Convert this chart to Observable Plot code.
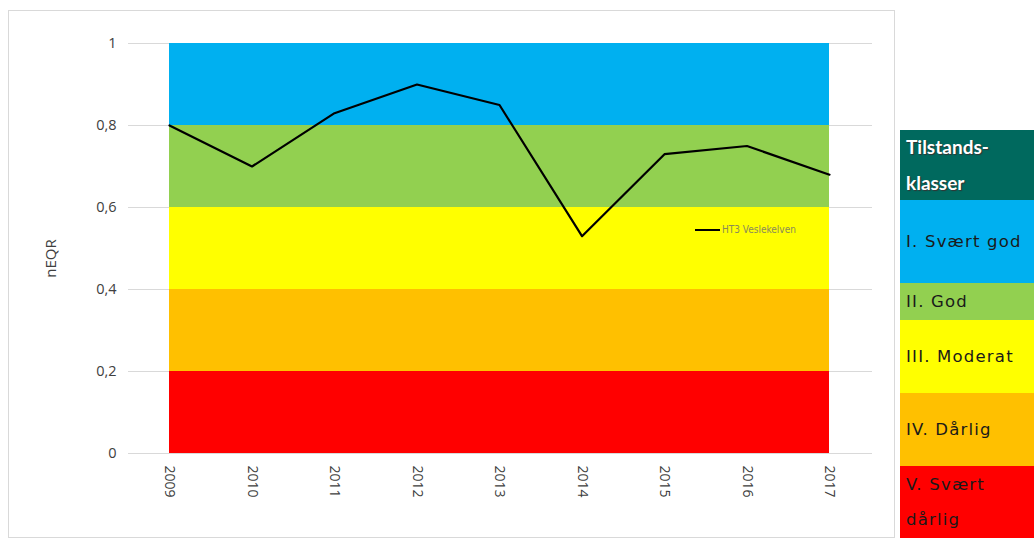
<!DOCTYPE html>
<html>
<head>
<meta charset="utf-8">
<script src="https://cdn.jsdelivr.net/npm/d3@7"></script>
<script src="https://cdn.jsdelivr.net/npm/@observablehq/plot@0.6"></script>
<style>
  body { margin: 0; background: #fff; font-family: "Open Sans", sans-serif; }
  #wrap { position: relative; width: 1034px; height: 541px; overflow: hidden; }
  #chart { position: absolute; left: 8px; top: 10px; width: 887px; height: 528px;
           border: 1px solid #d9d9d9; box-sizing: border-box; }
  #serie { position: absolute; left: 695px; top: 224px; font-size: 10px; color: #8a8a5a;
           font-family: "DejaVu Sans Condensed", "DejaVu Sans", sans-serif; white-space: nowrap; }
  #serie span.line { display: inline-block; width: 25px; border-top: 2px solid #000;
                     vertical-align: middle; margin-right: 2px; }
  #klasser { position: absolute; left: 900px; top: 130px; width: 134px; }
  #klasser div { box-sizing: border-box; padding-left: 6px; display: flex; align-items: center;
                 font-family: "DejaVu Sans", sans-serif; font-size: 16.5px; letter-spacing: 1.2px;
                 color: #1a1a1a; white-space: nowrap; }
  #klasser div.head { background: #00695e; color: #fff; font-family: "Lato", sans-serif;
                      font-weight: bold; font-size: 19px; letter-spacing: 0; line-height: 36px; height: 70px;
                      text-shadow: 1px 1px 1px #333; }
</style>
</head>
<body>
<div id="wrap">
  <div id="chart"></div>
  <div id="serie"><span class="line"></span>HT3 Veslekelven</div>
  <div id="klasser"></div>
</div>
<script>
// nEQR per år, HT3 Veslekelven
const years = [2009, 2010, 2011, 2012, 2013, 2014, 2015, 2016, 2017];
const neqr = [0.80, 0.70, 0.83, 0.90, 0.85, 0.53, 0.73, 0.75, 0.68];

// tilstandsklasser
const classNames = ["I. Svært god", "II. God", "III. Moderat", "IV. Dårlig", "V. Svært dårlig"];
const classLow = [0.8, 0.6, 0.4, 0.2, 0];
const classHigh = [1, 0.8, 0.6, 0.4, 0.2];
const classColors = ["#00b0f0", "#92d050", "#ffff00", "#ffc000", "#ff0000"];

const yTicks = [0, 0.2, 0.4, 0.6, 0.8, 1];

const series = years.map((y, i) => ({year: y, value: neqr[i]}));
const bands = classNames.map((c, i) => ({name: c, lo: classLow[i], hi: classHigh[i]}));

const chart = Plot.plot({
  width: 885,
  height: 526,
  marginTop: 32,
  marginBottom: 84,
  marginLeft: 160,
  marginRight: 65,
  style: {fontFamily: "Open Sans, sans-serif", background: "transparent"},
  x: {domain: [years[0], years[years.length - 1]], label: null},
  y: {domain: [0, 1], label: null},
  color: {domain: classNames, range: classColors},
  marks: [
    Plot.ruleY(yTicks, {stroke: "#d9d9d9", strokeWidth: 1, insetLeft: -41, insetRight: -43}),
    Plot.rectY(bands, {x1: years[0], x2: years[years.length - 1], y1: "lo", y2: "hi", fill: "name"}),
    Plot.axisY(yTicks, {tickSize: 0, tickPadding: 53, fontSize: 14.5, color: "#404040",
      tickFormat: d => String(d).replace(".", ",")}),
    Plot.axisX(years, {tickSize: 0, tickPadding: 12, tickRotate: 90, fontSize: 14, color: "#404040",
      tickFormat: d => String(d)}),
    Plot.text(["nEQR"], {frameAnchor: "left", textAnchor: "middle", dx: -118, dy: 10, rotate: -90,
      fontSize: 15, fill: "#404040"}),
    Plot.line(series, {x: "year", y: "value", stroke: "#000", strokeWidth: 2.2})
  ]
});
document.getElementById("chart").append(chart);

// tabell med tilstandsklasser til høyre
const heights = [83, 37, 73, 73, 72];
const leg = d3.select("#klasser");
leg.append("div").attr("class", "head").html("Tilstands-<br>klasser");
leg.selectAll("div.cls").data(bands).join("div")
  .attr("class", "cls")
  .style("background", (d, i) => classColors[i])
  .style("height", (d, i) => heights[i] + "px")
  .style("line-height", "35px")
  .html(d => d.name === "V. Svært dårlig" ? "V. Svært<br>dårlig" : d.name);
</script>
</body>
</html>
